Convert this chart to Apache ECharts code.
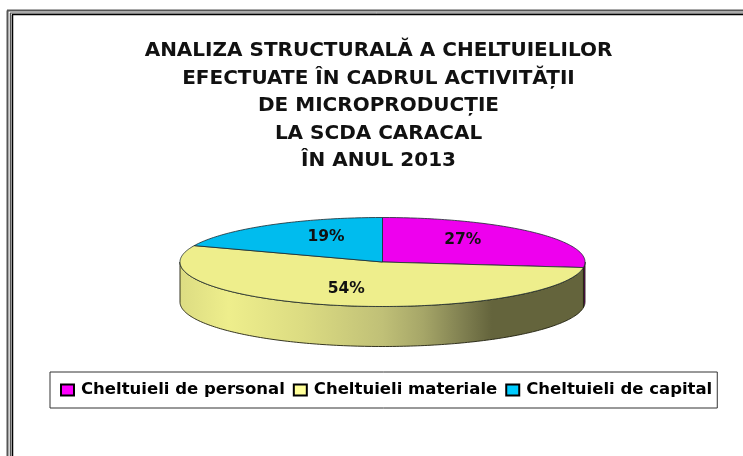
<!DOCTYPE html>
<html>
<head>
<meta charset="utf-8">
<style>html,body{margin:0;padding:0;background:#fff}#c{width:743px;height:456px}</style>
<script src="https://cdn.jsdelivr.net/npm/echarts@6/dist/echarts.min.js"></script>
</head>
<body>
<div id="c"></div>
<script>
const titleText = 'ANALIZA STRUCTURALĂ A CHELTUIELILOR\nEFECTUATE ÎN CADRUL ACTIVITĂȚII\nDE MICROPRODUCȚIE\nLA SCDA CARACAL\nÎN ANUL 2013';
const categories = ['Cheltuieli de personal', 'Cheltuieli materiale', 'Cheltuieli de capital'];
const values = [27, 54, 19];
const topColors = ['#ee00ee', '#eeee8c', '#00bcee'];
const legendColors = ['#ff00ff', '#ffff99', '#00ccff'];
const labelNudges = [[-14, -4], [-5, 0], [14, -2.5]];

const FONT = '"DejaVu Sans", "Open Sans", sans-serif';
const PIE = { cx: 382.5, cy: 262, rx: 202.5, ry: 44.5, depth: 40 };
const total = values.reduce((a, b) => a + b, 0);
const pt = (deg, y0) => {
  const a = deg * Math.PI / 180;
  return [PIE.cx + PIE.rx * Math.sin(a), (y0 === undefined ? PIE.cy : y0) - PIE.ry * Math.cos(a)];
};
const arc = (from, to, y0) => {
  const out = [];
  const n = Math.max(2, Math.ceil(Math.abs(to - from)));
  for (let i = 0; i <= n; i++) out.push(pt(from + (to - from) * i / n, y0));
  return out;
};
const wallFill = (i) => i === 0
  ? '#6a006a'
  : { type: 'linear', x: PIE.cx - PIE.rx, y: 0, x2: PIE.cx + PIE.rx, y2: 0, global: true,
      colorStops: [
        { offset: 0, color: '#dcdc82' }, { offset: 0.12, color: '#eeee8c' },
        { offset: 0.3, color: '#dcdc82' }, { offset: 0.5, color: '#c0c077' },
        { offset: 0.6, color: '#a6a668' }, { offset: 0.7, color: '#7f7f50' },
        { offset: 0.77, color: '#64643c' }, { offset: 1, color: '#64643c' }] };

function sliceSeries(i) {
  const start = values.slice(0, i).reduce((a, b) => a + b, 0) / total * 360;
  const end = start + values[i] / total * 360;
  const mid = (start + end) / 2;
  return {
    type: 'custom',
    name: categories[i],
    coordinateSystem: 'none',
    itemStyle: { color: legendColors[i], borderColor: '#000', borderWidth: 1.5 },
    data: [values[i]],
    silent: true,
    z: 2,
    renderItem: () => {
      const children = [];
      const wFrom = Math.max(start, 90), wTo = Math.min(end, 270);
      if (wTo > wFrom) {
        const w = arc(wFrom, wTo, PIE.cy).concat(arc(wTo, wFrom, PIE.cy + PIE.depth));
        children.push({ type: 'polygon', shape: { points: w },
          style: { fill: wallFill(i), stroke: '#20200f', lineWidth: 0.9 } });
      }
      const top = [[PIE.cx, PIE.cy]].concat(arc(start, end));
      children.push({ type: 'polygon', shape: { points: top },
        style: { fill: topColors[i], stroke: '#1c2a30', lineWidth: 0.8 } });
      const lp = pt(mid);
      const k = 0.62;
      children.push({ type: 'text', z2: 10, style: {
        x: PIE.cx + (lp[0] - PIE.cx) * k + labelNudges[i][0],
        y: PIE.cy + (lp[1] - PIE.cy) * k + labelNudges[i][1],
        text: values[i] + '%', align: 'center', verticalAlign: 'middle',
        font: 'bold 15.5px ' + FONT, fill: '#111' } });
      return { type: 'group', children };
    }
  };
}

const frame = (x1, y1, x2, y2, color, w) => ({
  type: 'line', silent: true, z: 1,
  shape: { x1, y1, x2, y2 }, style: { stroke: color, lineWidth: w }
});

const chart = echarts.init(document.getElementById('c'), null, { renderer: 'canvas' });
chart.setOption({
  animation: false,
  backgroundColor: '#fff',
  title: {
    text: titleText, left: 373.5, top: 32, textAlign: 'center',
    textStyle: { fontFamily: FONT, fontWeight: 'bold', fontSize: 20, lineHeight: 27.6, color: '#111' }
  },
  legend: {
    data: categories, left: 50, top: 372, width: 690,
    icon: 'rect', itemWidth: 13, itemHeight: 11, itemGap: 8,
    padding: [9.5, 5, 9.5, 10], borderColor: '#333', borderWidth: 1, backgroundColor: '#fff',
    selectedMode: false,
    textStyle: { fontFamily: FONT, fontWeight: 'bold', fontSize: 16.5, color: '#000', padding: [0, 0, 0, 2] }
  },
  graphic: [
    frame(7.5, 10.5, 7.5, 456, '#555', 2), frame(10.5, 13, 10.5, 456, '#555', 1.5), frame(12.5, 15, 12.5, 456, '#000', 1.5),
    frame(7, 10.5, 743, 10.5, '#555', 2), frame(10, 13, 743, 13, '#555', 1), frame(12, 14.5, 743, 14.5, '#000', 1.5)
  ],
  series: values.map((_, i) => sliceSeries(i))
});
</script>
</body>
</html>
